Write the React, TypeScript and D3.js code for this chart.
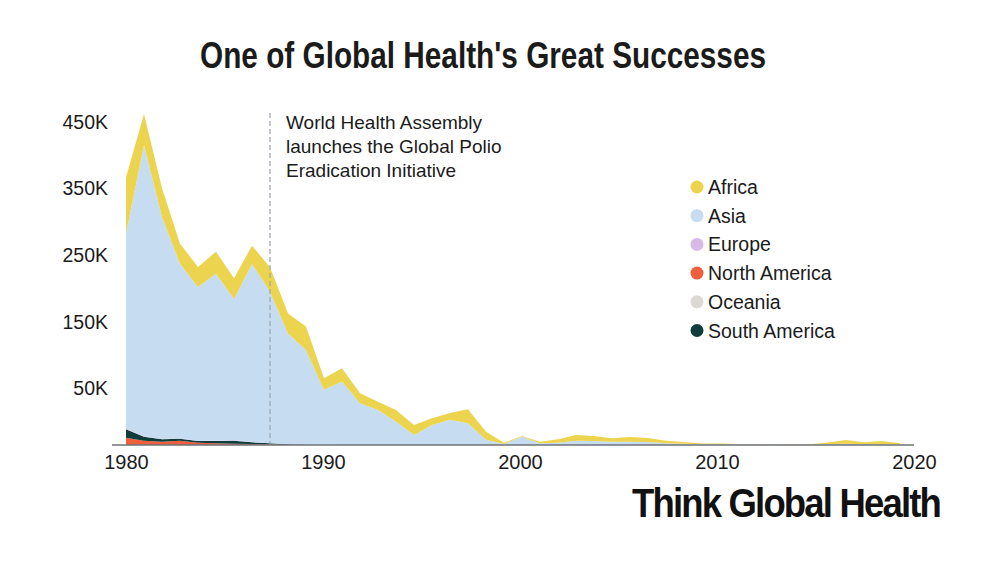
import React, { useEffect, useRef } from 'react';
import * as d3 from 'd3';

// polio cases by region, thousands
const years = [
  1980, 1981, 1982, 1983, 1984, 1985, 1986, 1987, 1988, 1989,
  1990, 1991, 1992, 1993, 1994, 1995, 1996, 1997, 1998, 1999,
  2000, 2001, 2002, 2003, 2004, 2005, 2006, 2007, 2008, 2009,
  2010, 2011, 2012, 2013, 2014, 2015, 2016, 2017, 2018, 2019,
  2020, 2021, 2022, 2023,
];

const africa = [
  84.5, 46.5, 43, 30, 30, 33, 31, 27.5, 37, 30,
  35, 17.5, 20, 15, 12.5, 17.5, 15, 10, 10, 21,
  12, 2, 1, 2.5, 5, 8.5, 7.5, 5, 7, 6,
  4, 2.5, 1.2, 1.5, 0.5, 0.6, 0.4, 0.6, 0.7, 2.5,
  5.5, 3, 4.8, 2,
];

const asia = [
  292.5, 436.5, 333, 262, 230.5, 250.5, 212, 267, 227, 166,
  142, 82.5, 95, 62.5, 52.5, 35, 15, 30, 38, 32.5,
  8, 1.5, 12.5, 2.5, 3.5, 6.5, 6, 5, 5, 4.5,
  2.5, 2, 1, 0.7, 1, 0.4, 0.3, 0.4, 0.5, 1.2,
  2, 1, 1.2, 0.5,
];

const europe = [
  1, 1, 0.5, 0.5, 0.5, 0.5, 0.5, 0.5, 0.3, 0.2,
  0.2, 0.1, 0.1, 0.1, 0, 0, 0, 0, 0, 0,
  0, 0, 0, 0, 0, 0, 0, 0, 0, 0,
  0, 0, 0, 0, 0, 0, 0, 0, 0, 0,
  0, 0, 0, 0,
];

const northAmerica = [
  11, 6.5, 5, 6.5, 3.5, 2.5, 2, 1.5, 1, 0.5,
  0.2, 0, 0, 0, 0, 0, 0, 0, 0, 0,
  0, 0, 0, 0, 0, 0, 0, 0, 0, 0,
  0, 0, 0, 0, 0, 0, 0, 0, 0, 0,
  0, 0, 0, 0,
];

const oceania = [
  0.1, 0.1, 0, 0, 0, 0, 0, 0, 0, 0,
  0, 0, 0, 0, 0, 0, 0, 0, 0, 0,
  0, 0, 0, 0, 0, 0, 0, 0, 0, 0,
  0, 0, 0, 0, 0, 0, 0, 0, 0, 0,
  0, 0, 0, 0,
];

const southAmerica = [
  12.6, 6, 3.6, 3, 2.5, 3.5, 4.5, 2.5, 1.5, 0.5,
  0.2, 0.1, 0, 0, 0, 0, 0, 0, 0, 0,
  0, 0, 0, 0, 0, 0, 0, 0, 0, 0,
  0, 0, 0, 0, 0, 0, 0, 0, 0, 0,
  0, 0, 0, 0,
];

const legendRegions = ['Africa', 'Asia', 'Europe', 'North America', 'Oceania', 'South America'];
// bottom to top in the stack
const stackOrder = ['North America', 'South America', 'Oceania', 'Europe', 'Asia', 'Africa'];

const yTicks = [50, 150, 250, 350, 450];
const xTicks = [1980, 1990, 2000, 2010, 2020];
const gpeiYear = 1988;

const colors: Record<string, string> = {
  Africa: '#ecd44e',
  Asia: '#c6dcf1',
  Europe: '#d7bbe6',
  'North America': '#ef5f3c',
  Oceania: '#dcd9d4',
  'South America': '#0f3d3c',
};

const FONT = '"Liberation Sans", Arial, sans-serif';
const INK = '#1b1b1b';

export default function App() {
  const svgRef = useRef<SVGSVGElement>(null);

  useEffect(() => {
    if (!svgRef.current) return;
    const svg = d3.select(svgRef.current);
    svg.selectAll('*').remove();

    const seriesByName: Record<string, number[]> = {
      Africa: africa,
      Asia: asia,
      Europe: europe,
      'North America': northAmerica,
      Oceania: oceania,
      'South America': southAmerica,
    };

    const rows = years.map((year, i) => {
      const row: any = { year };
      stackOrder.forEach(k => { row[k] = seriesByName[k][i]; });
      return row;
    });

    // data scales
    const x = d3.scaleLinear().domain([1980, 2023]).range([126, 900]);
    const y = d3.scaleLinear().domain([0, 450]).range([445, 145]);
    // label scales (labels sit off the data grid in the original)
    const xLabel = d3.scaleLinear().domain([1980, 2020]).range([126, 914]);
    const yLabel = d3.scaleLinear().domain([0, 450]).range([422, 122]);

    const stacked = d3.stack<any>().keys(stackOrder)(rows);

    const area = d3.area<any>()
      .x(d => x(d.data.year))
      .y0(d => y(d[0]))
      .y1(d => y(d[1]))
      .curve(d3.curveLinear);

    svg.append('g')
      .selectAll('path')
      .data(stacked)
      .enter()
      .append('path')
      .attr('fill', d => colors[d.key])
      .attr('d', area);

    // GPEI marker
    svg.append('line')
      .attr('x1', x(gpeiYear))
      .attr('x2', x(gpeiYear))
      .attr('y1', 113)
      .attr('y2', y(0))
      .attr('stroke', '#9aa3ad')
      .attr('stroke-width', 1.2)
      .attr('stroke-dasharray', '5,3');

    const note = svg.append('text')
      .attr('x', 286)
      .attr('y', 129)
      .style('font-family', FONT)
      .style('font-size', '19px')
      .style('fill', INK);
    ['World Health Assembly', 'launches the Global Polio', 'Eradication Initiative'].forEach((t, i) => {
      note.append('tspan').attr('x', 286).attr('dy', i === 0 ? 0 : 24).text(t);
    });

    // baseline
    svg.append('line')
      .attr('x1', 112)
      .attr('x2', 914)
      .attr('y1', y(0))
      .attr('y2', y(0))
      .attr('stroke', '#6e7378')
      .attr('stroke-width', 1.5);

    // axes
    const xAxis = svg.append('g')
      .attr('transform', `translate(0,${y(0)})`)
      .call(d3.axisBottom(xLabel).tickValues(xTicks).tickFormat(d => String(d)).tickSize(0).tickPadding(10));
    xAxis.select('.domain').remove();
    xAxis.selectAll('text')
      .style('font-family', FONT)
      .style('font-size', '20px')
      .style('fill', INK);

    const yAxis = svg.append('g')
      .attr('transform', 'translate(108,0)')
      .call(d3.axisLeft(yLabel).tickValues(yTicks).tickFormat(d => `${d}K`).tickSize(0).tickPadding(0));
    yAxis.select('.domain').remove();
    yAxis.selectAll('text')
      .style('font-family', FONT)
      .style('font-size', '19.5px')
      .style('fill', INK);

    // legend
    const legend = svg.append('g').attr('transform', 'translate(697,187)');
    legendRegions.forEach((name, i) => {
      const g = legend.append('g').attr('transform', `translate(0,${i * 28.7})`);
      g.append('circle').attr('r', 6.5).attr('fill', colors[name]);
      g.append('text')
        .attr('x', 11)
        .attr('y', 7)
        .style('font-family', FONT)
        .style('font-size', '19.5px')
        .style('fill', INK)
        .text(name);
    });

    // title
    svg.append('text')
      .attr('x', 200)
      .attr('y', 68)
      .attr('textLength', 566)
      .attr('lengthAdjust', 'spacingAndGlyphs')
      .style('font-family', '"Liberation Sans Narrow", "Liberation Sans", sans-serif')
      .style('font-weight', 'bold')
      .style('font-size', '37px')
      .style('fill', INK)
      .text("One of Global Health's Great Successes");

    // brand mark
    svg.append('text')
      .attr('x', 632)
      .attr('y', 517)
      .attr('textLength', 308)
      .attr('lengthAdjust', 'spacingAndGlyphs')
      .style('font-family', FONT)
      .style('font-weight', 'bold')
      .style('font-size', '40px')
      .style('letter-spacing', '-2px')
      .style('fill', '#111')
      .text('Think Global Health');
  }, []);

  return (
    <div style={{ position: 'absolute', left: 0, top: 0, width: 1000, height: 562, background: '#fff' }}>
      <svg ref={svgRef} width={1000} height={562} style={{ display: 'block' }}></svg>
    </div>
  );
}
